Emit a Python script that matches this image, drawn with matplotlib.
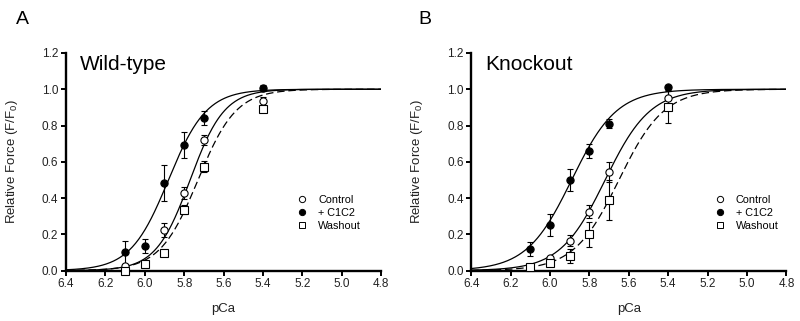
import numpy as np
import matplotlib

matplotlib.use("Agg")
import matplotlib.pyplot as plt
from matplotlib.lines import Line2D

plt.rcParams["font.family"] = ["Liberation Sans", "DejaVu Sans"]
plt.rcParams["mathtext.fontset"] = "custom"
plt.rcParams["mathtext.rm"] = "Liberation Sans"

# ---- data ----
panels = ["A", "B"]
panel_titles = ["Wild-type", "Knockout"]

# Wild-type
wt_ctrl_pca = [6.1, 5.9, 5.8, 5.7, 5.4]
wt_ctrl_f = [0.025, 0.224, 0.43, 0.72, 0.935]
wt_ctrl_err = [0.0, 0.04, 0.033, 0.03, 0.02]
wt_c1c2_pca = [6.1, 6.0, 5.9, 5.8, 5.7, 5.4]
wt_c1c2_f = [0.10, 0.136, 0.482, 0.693, 0.842, 1.007]
wt_c1c2_err = [0.065, 0.037, 0.10, 0.073, 0.04, 0.015]
wt_wash_pca = [6.1, 6.0, 5.9, 5.8, 5.7, 5.4]
wt_wash_f = [0.0, 0.035, 0.096, 0.335, 0.573, 0.89]
wt_wash_err = [0.0, 0.0, 0.0, 0.025, 0.03, 0.01]

# Knockout
ko_ctrl_pca = [6.1, 6.0, 5.9, 5.8, 5.7, 5.4]
ko_ctrl_f = [0.02, 0.072, 0.164, 0.324, 0.546, 0.95]
ko_ctrl_err = [0.0, 0.0, 0.03, 0.035, 0.055, 0.04]
ko_c1c2_pca = [6.1, 6.0, 5.9, 5.8, 5.7, 5.4]
ko_c1c2_f = [0.118, 0.252, 0.498, 0.66, 0.81, 1.014]
ko_c1c2_err = [0.04, 0.06, 0.06, 0.04, 0.025, 0.012]
ko_wash_pca = [6.1, 6.0, 5.9, 5.8, 5.7, 5.4]
ko_wash_f = [0.022, 0.04, 0.081, 0.20, 0.388, 0.904]
ko_wash_err = [0.0, 0.0, 0.04, 0.07, 0.11, 0.09]

# Hill fit parameters (pCa50, nH) for Control, +C1C2, Washout
wt_pca50 = [5.77, 5.88, 5.73]
wt_nh = [5.0, 4.5, 4.5]
ko_pca50 = [5.72, 5.89, 5.65]
ko_nh = [3.8, 3.8, 3.8]

series_labels = ["Control", "+ C1C2", "Washout"]


def hill(pca, pca50, nh):
    return 1.0 / (1.0 + 10 ** (nh * (pca - pca50)))


fig = plt.figure(figsize=(8.0, 3.21), dpi=100)
ax_pos = [[0.0825, 0.157, 0.394, 0.678], [0.589, 0.157, 0.394, 0.678]]
leg_x = [0.732, 0.771]

data = [
    [(wt_ctrl_pca, wt_ctrl_f, wt_ctrl_err), (wt_c1c2_pca, wt_c1c2_f, wt_c1c2_err),
     (wt_wash_pca, wt_wash_f, wt_wash_err)],
    [(ko_ctrl_pca, ko_ctrl_f, ko_ctrl_err), (ko_c1c2_pca, ko_c1c2_f, ko_c1c2_err),
     (ko_wash_pca, ko_wash_f, ko_wash_err)],
]
fits = [(wt_pca50, wt_nh), (ko_pca50, ko_nh)]
styles = [
    dict(marker="o", mfc="white", mec="black"),
    dict(marker="o", mfc="black", mec="black"),
    dict(marker="s", mfc="white", mec="black"),
]
line_styles = ["-", "-", (0, (6, 3))]

xs = np.linspace(6.4, 4.8, 400)
for i in range(2):
    ax = fig.add_axes(ax_pos[i])
    p50s, nhs = fits[i]
    for j in range(3):
        ax.plot(xs, hill(xs, p50s[j], nhs[j]), color="black", lw=0.9,
                linestyle=line_styles[j], zorder=2)
    for j in range(3):
        px, fy, er = data[i][j]
        ax.errorbar(px, fy, yerr=er, fmt="none", ecolor="black", elinewidth=0.8,
                    capsize=2.5, capthick=0.8, zorder=3, clip_on=False)
        ax.plot(px, fy, linestyle="none", ms=5.2, mew=0.8, zorder=4,
                clip_on=False, **styles[j])

    ax.set_xlim(6.4, 4.8)
    ax.set_ylim(0, 1.2)
    ax.set_xticks(np.arange(6.4, 4.79, -0.2))
    ax.set_xticklabels([f"{v:.1f}" for v in np.arange(6.4, 4.79, -0.2)])
    ax.set_yticks(np.arange(0, 1.21, 0.2))
    ax.set_yticklabels([f"{v:.1f}" for v in np.arange(0, 1.21, 0.2)])
    for s in ["top", "right"]:
        ax.spines[s].set_visible(False)
    for s in ["left", "bottom"]:
        ax.spines[s].set_linewidth(1.7)
    ax.tick_params(width=1.4, length=3.5, labelsize=8.5, labelcolor="#222222",
                   pad=2)
    ax.set_xlabel("pCa", fontsize=9.5, color="#222222")
    ax.xaxis.set_label_coords(0.5, -0.15)
    ax.set_ylabel(r"Relative Force (F/F$_\mathrm{0}$)", fontsize=9.5,
                  color="#222222")
    ax.yaxis.set_label_coords(-0.146, 0.5)
    ax.text(0.044, 0.99, panel_titles[i], transform=ax.transAxes, fontsize=15,
            va="top", ha="left")

    handles = [Line2D([], [], linestyle="none", ms=4.5, mew=0.7, **styles[j])
               for j in range(3)]
    ax.legend(handles, series_labels, loc="center left",
              bbox_to_anchor=(leg_x[i], 0.265), frameon=False, fontsize=7.8,
              handlelength=1.0, handletextpad=1.0, labelspacing=0.3,
              borderpad=0, borderaxespad=0)

fig.text(16 / 800, 1 - 20 / 321, "A", fontsize=14, va="center", ha="left")
fig.text(418 / 800, 1 - 20 / 321, "B", fontsize=14, va="center", ha="left")

fig.savefig("out.png", dpi=100)
